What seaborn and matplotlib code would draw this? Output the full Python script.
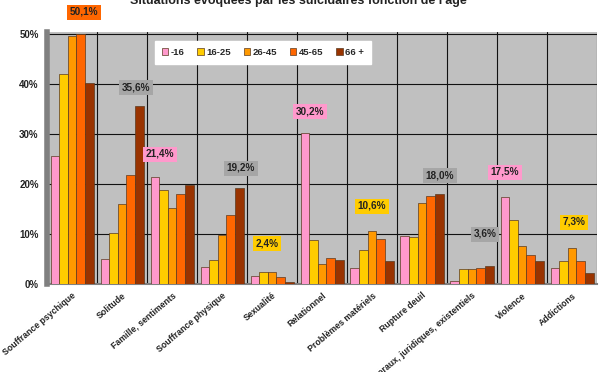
import pandas as pd
import matplotlib
matplotlib.use("Agg")
import matplotlib.pyplot as plt
import seaborn as sns

# data (percent)
categories = ["Souffrance psychique", "Solitude", "Famille, sentiments",
              "Souffrance physique", "Sexualité", "Relationnel",
              "Problèmes matériels", "Rupture deuil",
              "Problèmes moraux, juridiques, existentiels", "Violence", "Addictions"]
ages = ["-16", "16-25", "26-45", "45-65", "66 +"]
v_moins16 = [25.6, 5.0, 21.4, 3.4, 1.7, 30.2, 3.3, 9.7, 0.6, 17.5, 3.3]
v_16_25 = [42.1, 10.2, 18.8, 4.8, 2.4, 8.9, 6.8, 9.5, 3.1, 12.9, 4.7]
v_26_45 = [49.6, 16.0, 15.3, 9.8, 2.4, 4.0, 10.6, 16.2, 3.0, 7.7, 7.3]
v_45_65 = [50.1, 21.8, 18.0, 13.9, 1.4, 5.3, 9.0, 17.7, 3.2, 5.8, 4.7]
v_66 = [40.3, 35.6, 19.8, 19.2, 0.4, 4.9, 4.7, 18.0, 3.6, 4.6, 2.2]
palette = ["#FF99CC", "#FFCC00", "#FF9900", "#FF6600", "#993300"]

# highlighted values: text, box colour
callouts = ["50,1%", "35,6%", "21,4%", "19,2%", "2,4%", "30,2%",
            "10,6%", "18,0%", "3,6%", "17,5%", "7,3%"]
callout_colors = ["#FF6600", "#A6A6A6", "#FF99CC", "#A6A6A6", "#FFCC00", "#FF99CC",
                  "#FFCC00", "#A6A6A6", "#A6A6A6", "#FF99CC", "#FFCC00"]
callout_x = [0.24, 1.28, 1.76, 3.38, 3.9, 4.76, 6.0, 7.36, 8.26, 8.66, 10.04]
callout_y = [54.4, 39.4, 26.0, 23.2, 8.2, 34.6, 15.6, 21.8, 10.0, 22.4, 12.4]

rows = []
for age, vals in zip(ages, [v_moins16, v_16_25, v_26_45, v_45_65, v_66]):
    for cat, v in zip(categories, vals):
        rows.append({"cat": cat, "age": age, "val": v})
df = pd.DataFrame(rows)

sns.set_style("white")
plt.rcParams["font.family"] = ["Liberation Sans", "DejaVu Sans"]

fig = plt.figure(figsize=(6, 3.72), dpi=100)
ax = fig.add_axes([47 / 600, 1 - 284 / 372, 550 / 600, 252 / 372])
ax.set_facecolor("#C0C0C0")

sns.barplot(data=df, x="cat", y="val", hue="age", palette=palette, saturation=1,
            width=0.86, edgecolor="#5A3A20", linewidth=0.5, ax=ax, zorder=3)

ax.set_xlim(-0.5, len(categories) - 0.5)
ax.set_ylim(0, 50.4)
ax.set_yticks([0, 10, 20, 30, 40, 50])
ax.set_yticklabels(["0%", "10%", "20%", "30%", "40%", "50%"],
                   fontsize=7, fontweight="bold", color="#222222")
ax.set_xticks(range(len(categories)))
ax.set_xticklabels(categories, rotation=40, ha="right", va="top",
                   rotation_mode="anchor", fontsize=6.3, fontweight="bold",
                   color="#222222")
ax.set_xlabel("")
ax.set_ylabel("")
ax.set_xticks([i + 0.5 for i in range(len(categories))], minor=True)
ax.grid(True, which="minor", axis="x", color="#111111", lw=0.8, zorder=0)
ax.grid(True, which="major", axis="y", color="#111111", lw=0.8, zorder=0)
ax.tick_params(axis="both", which="both", length=0, pad=6)
ax.tick_params(axis="x", pad=5)
for s in ["top", "right"]:
    ax.spines[s].set_visible(False)
ax.spines["left"].set_color("#808080")
ax.spines["left"].set_linewidth(4)
ax.spines["bottom"].set_color("#808080")
ax.spines["bottom"].set_linewidth(1.5)

leg = ax.legend(loc="upper left", bbox_to_anchor=(0.187, 0.985), ncol=5,
                fontsize=6.8, frameon=True, fancybox=False, handlelength=0.7,
                handleheight=0.7, handletextpad=0.3, columnspacing=1.3,
                borderpad=0.75, edgecolor="white", framealpha=1)
for t in leg.get_texts():
    t.set_fontweight("bold")

for txt, col, x, y in zip(callouts, callout_colors, callout_x, callout_y):
    ax.text(x, y, txt, ha="center", va="center", fontsize=7.2, fontweight="bold",
            color="#222222", zorder=5, clip_on=False,
            bbox=dict(boxstyle="square,pad=0.25", fc=col, ec="none"))

fig.text(0.497, 0.997, "Situations évoquées par les suicidaires fonction de l'âge",
         ha="center", va="center", fontsize=9, fontweight="bold", color="#222222")

fig.savefig("out.png", dpi=100)
